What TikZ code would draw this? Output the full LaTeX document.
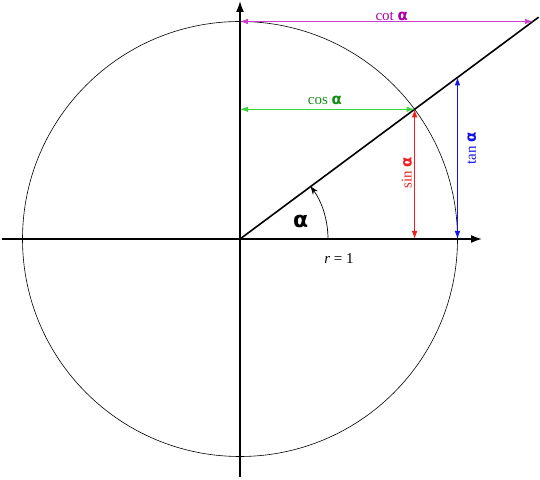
\documentclass[tikz,border=0pt]{standalone}
\usepackage{fontspec}
\setmainfont{Liberation Serif}
\newfontfamily\alphafont{DejaVu Sans}
\usetikzlibrary{arrows.meta}
\definecolor{cotline}{RGB}{205,60,205}
\definecolor{cottext}{RGB}{170,0,170}
\definecolor{cosline}{RGB}{60,210,60}
\definecolor{costext}{RGB}{20,140,20}
\definecolor{sinc}{RGB}{240,30,30}
\definecolor{tanc}{RGB}{20,20,230}
\newcommand{\al}{{\alphafont\bfseries α}}
\tikzset{
  axis/.style={line width=1.6pt,-{Latex[length=11pt,width=8pt]}},
  meas/.style={line width=0.8pt,{Latex[length=8pt,width=5.5pt]}-{Latex[length=8pt,width=5.5pt]}},
  lbl/.style={font=\fontsize{15}{17}\selectfont,inner sep=0pt}
}
\begin{document}
\begin{tikzpicture}[x=1pt,y=1pt]
\useasboundingbox (0,0) rectangle (540,479);
\coordinate (O) at (240,240);
\coordinate (P) at (414.6,369.7);
\coordinate (Px) at (414.6,240);
\coordinate (Py) at (240,369.7);
\coordinate (T) at (457.5,401.6);
\coordinate (Tx) at (457.5,240);
\coordinate (Q) at (240,457.5);
\coordinate (C) at (532.9,457.5);
\coordinate (L) at (538.6,461.8);
\coordinate (XL) at (2,240);
\coordinate (XR) at (482,240);
\coordinate (YB) at (240,2);
\coordinate (YT) at (240,478);
\draw[line width=0.6pt] (O) circle[radius=217.5];
\draw[axis] (XL) -- (XR);
\draw[axis] (YB) -- (YT);
\draw[line width=1.6pt] (O) -- (L);
\draw[line width=0.7pt,-{Stealth[length=8pt,width=6pt]}] ([xshift=88pt]O) arc[start angle=0,end angle=36.6,radius=88pt];
\draw[meas,cotline] (Q) -- (C);
\draw[meas,cosline] (Py) -- (P);
\draw[meas,sinc] (Px) -- (P);
\draw[meas,tanc] (Tx) -- (T);
\node[lbl,text=cottext] (cotl) at (391.7,462.3) {cot \al};
\node[lbl,text=costext] (cosl) at (325,378.3) {cos \al};
\node[lbl,text=sinc,rotate=90] (sinl) at (406.7,306) {sin \al};
\node[lbl,text=tanc,rotate=90] (tanl) at (471.7,331) {tan \al};
\node[inner sep=0pt,font=\fontsize{22}{24}\selectfont] (alab) at (300.7,257.3) {\al};
\node[lbl] (rl) at (339,220) {\textit{r} = 1};
\end{tikzpicture}
\end{document}
